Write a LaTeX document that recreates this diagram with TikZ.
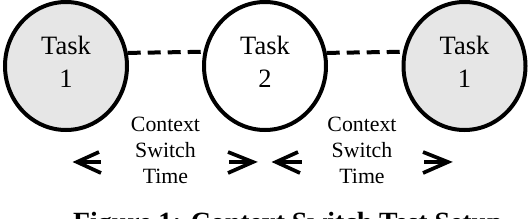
\documentclass[tikz,border=0pt]{standalone}
\usepackage{fontspec}
\setmainfont{Liberation Serif}
\usetikzlibrary{shapes.geometric}
\definecolor{taskgray}{RGB}{230,230,230}
\tikzset{
  taskbox/.style={ellipse, draw=black, line width=4pt, minimum width=122pt, minimum height=128pt, inner sep=0pt},
  tasktext/.style={align=center, font=\fontsize{26.5}{33.3}\selectfont, inner sep=0pt},
  cstext/.style={align=center, font=\fontsize{21.8}{26.2}\selectfont, inner sep=0pt},
  link/.style={line width=4pt, dash pattern=on 13pt off 7pt},
  headmark/.style={line width=3.7pt, line join=miter},
  barmark/.style={line width=3.7pt},
  captiontext/.style={font=\fontsize{27.8}{30}\selectfont\bfseries, inner sep=0pt, anchor=base west}
}
\begin{document}
\begin{tikzpicture}[x=1pt,y=-1pt]
\clip (0,0) rectangle (530,218);
\fill[white] (0,0) rectangle (530,218);
% task circles
\node[taskbox, fill=taskgray] (c1) at (66,66) {};
\node[taskbox, fill=white] (c2) at (265,66) {};
\node[taskbox, fill=taskgray] (c3) at (464.5,66) {};
\node[tasktext] (t1) at (66,61.6) {Task\\1};
\node[tasktext] (t2) at (265,61.6) {Task\\2};
\node[tasktext] (t3) at (464.5,61.6) {Task\\1};
% dashed links
\draw[link] (c1.12.5) -- (c2.167.5);
\draw[link] (c2.12.5) -- (c3.167.5);
% context switch labels
\node[cstext] (s1) at (165.5,150.5) {Context\\Switch\\Time};
\node[cstext] (s2) at (362,150.5) {Context\\Switch\\Time};
% arrow marks
\coordinate (a1) at (77,162);
\draw[headmark] (99,152) -- (a1) -- (101,173);
\draw[barmark] (a1) -- (101,162);
\coordinate (a2) at (253,162);
\draw[headmark] (228,152) -- (a2) -- (228,173);
\draw[barmark] (a2) -- (229,162);
\coordinate (a3) at (276,162);
\draw[headmark] (298,152) -- (a3) -- (300,173);
\draw[barmark] (a3) -- (302,162);
\coordinate (a4) at (448,162);
\draw[headmark] (423,152) -- (a4) -- (423,173);
\draw[barmark] (a4) -- (424,162);
% caption (cut off at the bottom edge, as in the reference)
\node[captiontext] (cap) at (73,231) {Figure 1: Context Switch Test Setup};
\end{tikzpicture}
\end{document}
